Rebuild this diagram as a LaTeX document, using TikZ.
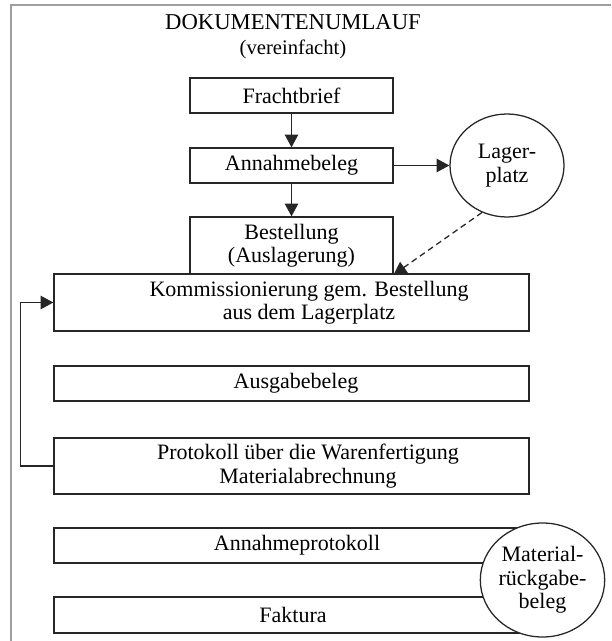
\documentclass[tikz,border=0pt]{standalone}
\usepackage{fontspec}
\setmainfont{Liberation Serif}
\usetikzlibrary{arrows.meta,shapes.geometric}
\begin{document}
\begin{tikzpicture}[x=0.75pt,y=-0.75pt,
  txt/.style={font=\fontsize{16.5}{17.5}\selectfont,text=black,align=center,inner sep=0pt},
  box/.style={txt,draw=black!85,line width=0.95pt,rectangle,inner sep=0pt},
  oval/.style={txt,draw=black!85,line width=0.95pt,ellipse,inner sep=0pt,fill=white},
  arr/.style={-{Triangle[length=9.5pt,width=10pt]},line width=0.95pt,draw=black!85},
  dasharr/.style={arr,dash pattern=on 4.5pt off 3pt}]
\useasboundingbox (0,0) rectangle (611,641);
\draw[gray!75,line width=1.4pt] (11,641) -- (11,5) -- (611,5);

\node[font=\fontsize{17}{18.5}\selectfont,text=black,align=center,inner sep=0pt] (title) at (293,37) {DOKUMENTENUMLAUF\\{\fontsize{15.5}{18.5}\selectfont (vereinfacht)}};

\node[box,minimum width=152.25pt,minimum height=26.25pt] (F) at (291.5,95.5) {Frachtbrief};
\node[box,minimum width=152.25pt,minimum height=26.25pt] (A) at (291.5,165.5) {Annahmebeleg};
\node[box,minimum width=152.25pt,minimum height=42.75pt] (B) at (291.5,245.5) {Bestellung\\(Auslagerung)};
\node[box,minimum width=356.25pt,minimum height=42.75pt] (K) at (291.5,302.5) {};
\node[txt] (Kt) at (309,302.5) {Kommissionierung gem. Bestellung\\aus dem Lagerplatz};
\node[box,minimum width=356.25pt,minimum height=26.25pt] (Au) at (291.5,383.5) {};
\node[txt] (Aut) at (296,383.5) {Ausgabebeleg};
\node[box,minimum width=356.25pt,minimum height=42pt] (P) at (291.5,466) {};
\node[txt] (Pt) at (308,466) {Protokoll über die Warenfertigung\\Materialabrechnung};
\node[box,minimum width=356.25pt,minimum height=26.25pt] (AP) at (291.5,545.5) {};
\node[txt] (APt) at (297,545.5) {Annahmeprotokoll};
\node[box,minimum width=356.25pt,minimum height=27pt] (Fa) at (291.5,615) {};
\node[txt] (Fat) at (293,615) {Faktura};

\node[oval,minimum width=85.5pt,minimum height=77.25pt] (L) at (507,165.5) {Lager-\\platz};
\node[oval,minimum width=92.25pt,minimum height=85.5pt] (M) at (542.5,580) {Material-\\rückgabe-\\beleg};

\draw[arr] (F) -- (A);
\draw[arr] (A) -- (B);
\draw[arr] (A) -- (L);
\draw[dasharr] (L.242) -- (B.south east);
\draw[arr] (P.west) -- ++(-33,0) |- (K.west);
\end{tikzpicture}
\end{document}
